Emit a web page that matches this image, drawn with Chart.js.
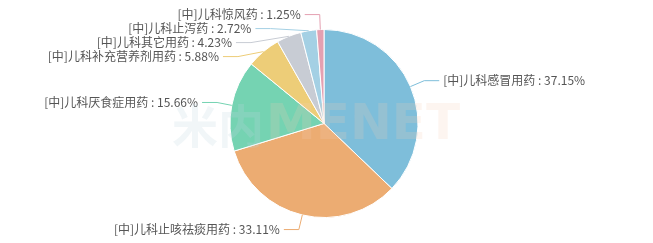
<!DOCTYPE html>
<html>
<head>
<meta charset="utf-8">
<script src="https://cdn.jsdelivr.net/npm/chart.js@4"></script>
<style>
  html, body { margin: 0; padding: 0; background: #fff; }
  #wrap { width: 653px; height: 243px; position: relative; }
</style>
</head>
<body>
<div id="wrap"><canvas id="pie"></canvas></div>
<script>
const categories = [
  "[中]儿科感冒用药",
  "[中]儿科止咳祛痰用药",
  "[中]儿科厌食症用药",
  "[中]儿科补充营养剂用药",
  "[中]儿科其它用药",
  "[中]儿科止泻药",
  "[中]儿科惊风药"
];
const shares = [37.15, 33.11, 15.66, 5.88, 4.23, 2.72, 1.25];
const colors = ["#7ebeda", "#ecac72", "#75d3b2", "#edcd78", "#c8ccd4", "#a4d0e4", "#e4a0b1"];

// draws outside labels with leader lines, pushes overlapping ones apart
const outsideLabels = {
  id: "outsideLabels",
  afterDatasetsDraw(chart) {
    const ctx = chart.ctx;
    const arcs = chart.getDatasetMeta(0).data;
    const items = arcs.map((arc, i) => {
      const mid = (arc.startAngle + arc.endAngle) / 2;
      const r = arc.outerRadius;
      const r2 = r + 15;
      return {
        i, cx: arc.x, cy: arc.y, r2,
        ex: arc.x + Math.cos(mid) * r,
        ey: arc.y + Math.sin(mid) * r,
        ly: arc.y + Math.sin(mid) * r2,
        left: Math.cos(mid) < 0
      };
    });
    [true, false].forEach(side => {
      const list = items.filter(d => d.left === side).sort((a, b) => a.ly - b.ly);
      for (let k = 1; k < list.length; k++) {
        if (list[k].ly < list[k - 1].ly + 14) list[k].ly = list[k - 1].ly + 14;
      }
    });
    ctx.save();
    ctx.font = '12px "Noto Sans CJK SC", "Microsoft YaHei", sans-serif';
    ctx.textBaseline = "middle";
    items.forEach(d => {
      const dy = d.ly - d.cy;
      const dx = Math.sqrt(Math.max(d.r2 * d.r2 - dy * dy, 0));
      const x2 = d.left ? d.cx - dx : d.cx + dx;
      const x3 = d.left ? x2 - 15 : x2 + 15;
      ctx.strokeStyle = colors[d.i];
      ctx.lineWidth = 1;
      ctx.beginPath();
      ctx.moveTo(d.ex, d.ey);
      ctx.lineTo(x2, d.ly);
      ctx.lineTo(x3, d.ly);
      ctx.stroke();
      ctx.fillStyle = "#555";
      ctx.textAlign = d.left ? "right" : "left";
      ctx.fillText(categories[d.i] + " : " + shares[d.i] + "%", d.left ? x3 - 4 : x3 + 4, d.ly);
    });
    ctx.restore();
  },
  afterDraw(chart) {
    // faint watermark
    const ctx = chart.ctx;
    ctx.save();
    ctx.textBaseline = "middle";
    ctx.textAlign = "left";
    ctx.font = 'bold 46px "Noto Sans CJK SC", sans-serif';
    ctx.fillStyle = "rgba(190, 215, 225, 0.22)";
    ctx.fillText("米内", 172, 126);
    ctx.font = 'bold 50px "DejaVu Sans", sans-serif';
    ctx.fillStyle = "rgba(245, 205, 180, 0.2)";
    ctx.fillText("MENET", 266, 126);
    ctx.restore();
  }
};

new Chart(document.getElementById("pie"), {
  type: "pie",
  data: {
    labels: categories,
    datasets: [{
      data: shares,
      backgroundColor: colors,
      borderColor: "#fff",
      borderWidth: 1
    }]
  },
  options: {
    responsive: true,
    maintainAspectRatio: false,
    animation: false,
    layout: { padding: { top: 29, bottom: 25, left: 0, right: 5 } },
    plugins: {
      legend: { display: false },
      tooltip: { enabled: false }
    }
  },
  plugins: [outsideLabels]
});
</script>
</body>
</html>
